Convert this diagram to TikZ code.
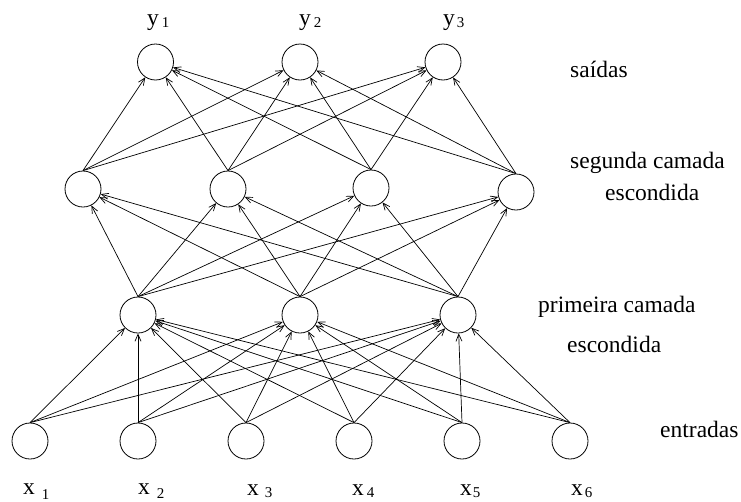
\documentclass[tikz,border=0pt]{standalone}
\usepackage{fontspec}
\setmainfont{Liberation Serif}
\usetikzlibrary{arrows.meta}

% indice: algarismo, espaco antes, descida
\newcommand{\indice}[3]{\hspace{#2pt}\raisebox{-#3pt}{\fontsize{15}{18}\selectfont #1}}

\begin{document}
\begin{tikzpicture}[
		x=1pt, y=-1pt,
		neuronio/.style={circle, fill=white, draw=black,
			inner sep=0pt, minimum size=36pt,
			line width=0.8pt},
		ligacao/.style={line width=0.7pt, black,
			-{Straight Barb[length=7pt, width=6pt]}},
		rotulo/.style={anchor=base west, inner sep=0pt,
			font=\fontsize{23.5}{28}\selectfont},
		]
		\useasboundingbox (0,0) rectangle (741,501);
		
		% entradas
		\node[neuronio] (e1) at (30,441) {};
		\node[neuronio] (e2) at (138,441) {};
		\node[neuronio] (e3) at (246,441) {};
		\node[neuronio] (e4) at (354,441) {};
		\node[neuronio] (e5) at (462,441) {};
		\node[neuronio] (e6) at (570,441) {};
		
		% primeira camada escondida
		\node[neuronio] (a1) at (138,315) {};
		\node[neuronio] (a2) at (300,315) {};
		\node[neuronio] (a3) at (458,315) {};
		
		% segunda camada escondida
		\node[neuronio] (b1) at (83,189) {};
		\node[neuronio] (b2) at (228,189) {};
		\node[neuronio] (b3) at (371,188) {};
		\node[neuronio] (b4) at (516,192) {};
		
		% saidas
		\node[neuronio] (s1) at (155.5,62) {};
		\node[neuronio] (s2) at (300,62) {};
		\node[neuronio] (s3) at (443,62) {};
		
		% ligacoes entre camadas
		\foreach \i in {1,...,6}
		\foreach \j in {1,2,3}
		\draw[ligacao] (e\i.north) -- (a\j);
		\foreach \i in {1,2,3}
		\foreach \j in {1,...,4}
		\draw[ligacao] (a\i.north) -- (b\j);
		\foreach \i in {1,...,4}
		\foreach \j in {1,2,3}
		\draw[ligacao] (b\i.north) -- (s\j);
		
		% rotulos das saidas
		\node[rotulo] (ly1) at (147,25) {y\indice{1}{3}{2}};
		\node[rotulo] (ly2) at (299,25) {y\indice{2}{3}{2}};
		\node[rotulo] (ly3) at (443,25) {y\indice{3}{2}{2}};
		
		% rotulos das entradas
		\node[rotulo] (lx1) at (23,494) {x\indice{1}{7}{5}};
		\node[rotulo] (lx2) at (138,494) {x\indice{2}{7}{4}};
		\node[rotulo] (lx3) at (247,495) {x\indice{3}{6}{2}};
		\node[rotulo] (lx4) at (352,495) {x\indice{4}{3}{2}};
		\node[rotulo] (lx5) at (460,495) {x\indice{5}{1}{2}};
		\node[rotulo] (lx6) at (571,495) {x\indice{6}{2}{2}};
		
		% nomes das camadas
		\node[rotulo] (nsai) at (570,77) {saídas};
		\node[rotulo] (nseg) at (570,168) {segunda camada};
		\node[rotulo] (nseg2) at (605,200) {escondida};
		\node[rotulo] (npri) at (538,312) {primeira camada};
		\node[rotulo] (npri2) at (567,352) {escondida};
		\node[rotulo] (nent) at (660,437) {entradas};
		
	\end{tikzpicture}
\end{document}
